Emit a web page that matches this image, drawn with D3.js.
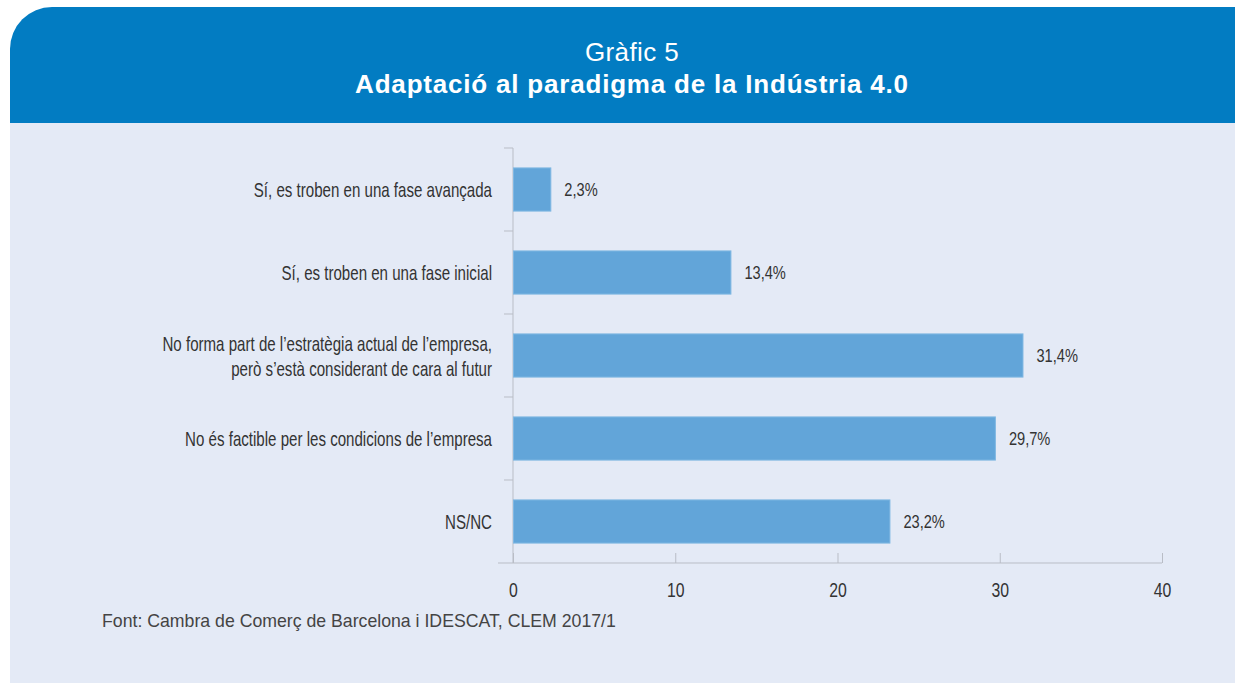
<!DOCTYPE html>
<html>
<head>
<meta charset="utf-8">
<script src="https://cdn.jsdelivr.net/npm/d3@7"></script>
<style>
  html, body { margin: 0; padding: 0; background: #fff; }
  svg { display: block; }
  .cond { font-family: "Liberation Sans", Arial, sans-serif; }
</style>
</head>
<body>
<div id="chart"></div>
<script>
var width = 1235,
    height = 684;

// data
var categories = [
  ["Sí, es troben en una fase avançada"],
  ["Sí, es troben en una fase inicial"],
  ["No forma part de l’estratègia actual de l’empresa,", "però s’està considerant de cara al futur"],
  ["No és factible per les condicions de l’empresa"],
  ["NS/NC"]
];
var values = [2.3, 13.4, 31.4, 29.7, 23.2];
var xTicks = [0, 10, 20, 30, 40];

var title = "Gràfic 5",
    subtitle = "Adaptació al paradigma de la Indústria 4.0",
    source = "Font: Cambra de Comerç de Barcelona i IDESCAT, CLEM 2017/1";

var blue = "#027cc2",
    panel = "#e4eaf6",
    barFill = "#62a5d9",
    squeeze = "scale(0.77,1)"; // condensed look of the original type

var svg = d3.select("#chart").append("svg")
    .attr("width", width)
    .attr("height", height);

// panel with rounded top-left corner
var px0 = 10, py0 = 7, px1 = 1235, py1 = 683, rad = 42, headBottom = 123;

svg.append("rect")
    .attr("x", px0).attr("y", headBottom)
    .attr("width", px1 - px0).attr("height", py1 - headBottom)
    .attr("fill", panel);

svg.append("path")
    .attr("d", "M" + px0 + "," + headBottom +
               "V" + (py0 + rad) +
               "A" + rad + "," + rad + " 0 0 1 " + (px0 + rad) + "," + py0 +
               "H" + px1 + "V" + headBottom + "Z")
    .attr("fill", blue);

svg.append("text")
    .attr("x", 632).attr("y", 61)
    .attr("text-anchor", "middle")
    .attr("fill", "#fff")
    .style("font-family", "'Liberation Sans', Arial, sans-serif")
    .style("font-weight", "300")
    .style("font-size", "26px")
    .style("letter-spacing", "0.4px")
    .text(title);

svg.append("text")
    .attr("x", 632).attr("y", 93)
    .attr("text-anchor", "middle")
    .attr("fill", "#fff")
    .style("font-family", "'Liberation Sans', Arial, sans-serif")
    .style("font-weight", "bold")
    .style("font-size", "26px")
    .style("letter-spacing", "0.8px")
    .text(subtitle);

// chart area
var margin = {left: 513, right: 73, top: 148, bottom: 121};

var x = d3.scaleLinear()
    .domain([0, 40])
    .range([margin.left, width - margin.right]);

var y = d3.scaleBand()
    .domain(d3.range(values.length))
    .range([margin.top, height - margin.bottom])
    .paddingInner(0.48)
    .paddingOuter(0.24);

var step = y.step();

// x axis
var xAxis = svg.append("g")
    .attr("transform", "translate(0," + (height - margin.bottom) + ")")
    .call(d3.axisBottom(x).tickValues(xTicks).tickSize(10).tickPadding(9).tickFormat(d3.format("d")));
xAxis.select(".domain")
    .attr("d", "M" + (margin.left - 15) + ",0H" + x(40))
    .attr("stroke", "#b9bdc6");
xAxis.selectAll(".tick line").attr("stroke", "#b9bdc6").attr("y1", -10).attr("y2", 0);
xAxis.selectAll(".tick text")
    .attr("class", "cond")
    .attr("fill", "#333")
    .attr("transform", squeeze)
    .style("font-size", "20.5px");

// y axis line and separators
svg.append("line")
    .attr("x1", margin.left).attr("x2", margin.left)
    .attr("y1", margin.top).attr("y2", height - margin.bottom)
    .attr("stroke", "#b9bdc6");

svg.selectAll(".sep")
    .data(d3.range(values.length))
    .enter().append("line")
    .attr("class", "sep")
    .attr("x1", margin.left - 9).attr("x2", margin.left)
    .attr("y1", function(d) { return margin.top + d * step; })
    .attr("y2", function(d) { return margin.top + d * step; })
    .attr("stroke", "#b9bdc6");

// bars
svg.selectAll(".bar")
    .data(values)
    .enter().append("rect")
    .attr("class", "bar")
    .attr("x", x(0) + 0.5)
    .attr("y", function(d, i) { return y(i); })
    .attr("width", function(d) { return x(d) - x(0); })
    .attr("height", y.bandwidth())
    .attr("fill", barFill)
    .attr("stroke", "#7fb7e2")
    .attr("stroke-width", 1);

// value labels
svg.selectAll(".val")
    .data(values)
    .enter().append("text")
    .attr("class", "val cond")
    .attr("transform", function(d, i) {
      return "translate(" + (x(d) + 14) + "," + (y(i) + y.bandwidth() / 2) + ")" + squeeze;
    })
    .attr("dy", "0.35em")
    .attr("fill", "#333")
    .style("font-size", "19px")
    .text(function(d) { return d.toFixed(1).replace(".", ",") + "%"; });

// category labels
var lab = svg.selectAll(".cat")
    .data(categories)
    .enter().append("text")
    .attr("class", "cat cond")
    .attr("text-anchor", "end")
    .attr("fill", "#333")
    .style("font-size", "19.6px")
    .attr("transform", function(d, i) {
      return "translate(" + (margin.left - 21) + "," + (y(i) + y.bandwidth() / 2 + 1) + ")" + squeeze;
    });

lab.selectAll("tspan")
    .data(function(d) { return d; })
    .enter().append("tspan")
    .attr("x", 0)
    .attr("y", function(d, j, nodes) { return (j - (nodes.length - 1) / 2) * 25; })
    .attr("dy", "0.35em")
    .text(function(d) { return d; });

// source
svg.append("text")
    .attr("x", 102).attr("y", 627)
    .attr("fill", "#444")
    .style("font-family", "'Liberation Sans', Arial, sans-serif")
    .style("font-size", "17.7px")
    .text(source);
</script>
</body>
</html>
